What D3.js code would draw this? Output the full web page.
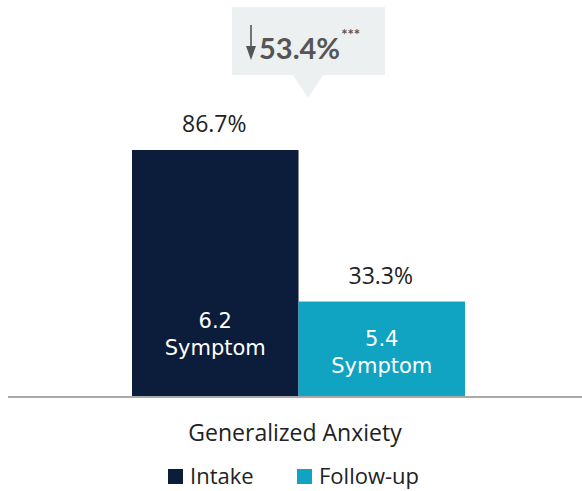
<!DOCTYPE html>
<html><head><meta charset="utf-8">
<script src="https://cdn.jsdelivr.net/npm/d3@7"></script>
<style>body{margin:0;background:#fff}svg{display:block}</style>
</head><body>
<svg id="c" width="582" height="491"></svg>
<script>
const categories = ["Generalized Anxiety"];
const series = ["Intake", "Follow-up"];
const percentValues = [86.7, 33.3];
const symptomValues = ["6.2", "5.4"];
const barLabelText = "Symptom";
const changeLabel = "53.4%";
const significance = "***";
const colors = ["#0b1d3a", "#11a3c2"];

const svg = d3.select("#c");
const baseY = 396;
const y = d3.scaleLinear().domain([0, 86.7]).range([baseY, 150]);
const x = d3.scaleBand().domain(series).range([132, 465]).padding(0);

// baseline
svg.append("line").attr("x1", 8).attr("x2", 582).attr("y1", baseY + 1).attr("y2", baseY + 1)
  .attr("stroke", "#a9a9a9").attr("stroke-width", 2);

// bars
series.forEach((s, i) => {
  svg.append("rect").attr("x", x(s)).attr("width", x.bandwidth())
    .attr("y", y(percentValues[i])).attr("height", baseY - y(percentValues[i]))
    .attr("fill", colors[i]);
  svg.append("text").attr("x", x(s) + x.bandwidth() / 2 - 1).attr("y", y(percentValues[i]) - 18)
    .attr("text-anchor", "middle").attr("font-family", "Open Sans").attr("font-size", 23)
    .attr("fill", "#222").text(percentValues[i].toFixed(1) + "%");
  const cx = x(s) + x.bandwidth() / 2;
  const ty = i === 0 ? 328 : 346;
  svg.append("text").attr("x", cx).attr("y", ty).attr("text-anchor", "middle")
    .attr("font-family", "DejaVu Sans").attr("font-size", 21).attr("fill", "#fff").text(symptomValues[i]);
  svg.append("text").attr("x", cx).attr("y", ty + 27).attr("text-anchor", "middle")
    .attr("font-family", "DejaVu Sans").attr("font-size", 21).attr("fill", "#fff").text(barLabelText);
});

// category label
svg.append("text").attr("x", 295).attr("y", 441).attr("text-anchor", "middle")
  .attr("font-family", "Open Sans").attr("font-size", 23).attr("fill", "#222").text(categories[0]);

// callout
const cg = svg.append("g");
cg.append("rect").attr("x", 232).attr("y", 7).attr("width", 153).attr("height", 68).attr("fill", "#edf0f1");
cg.append("path").attr("d", "M292,74 L324,74 L308,98 Z").attr("fill", "#edf0f1");
// arrow
cg.append("line").attr("x1", 251).attr("x2", 251).attr("y1", 25).attr("y2", 54)
  .attr("stroke", "#555").attr("stroke-width", 1.6);
cg.append("path").attr("d", "M246,46 L251,60 L256,46 Z").attr("fill", "#555");
const t = cg.append("text").attr("x", 259).attr("y", 59).attr("font-family", "Lato")
  .attr("font-weight", "bold").attr("font-size", 29).attr("fill", "#555");
t.append("tspan").text(changeLabel);
t.append("tspan").attr("font-size", 15).attr("dy", -19).attr("dx", 1).text(significance);

// legend
const lg = svg.append("g");
const legendX = [168, 297];
series.forEach((s, i) => {
  lg.append("rect").attr("x", legendX[i]).attr("y", 469).attr("width", 15).attr("height", 15).attr("fill", colors[i]);
  lg.append("text").attr("x", legendX[i] + 22).attr("y", 484).attr("font-family", "Open Sans")
    .attr("font-size", 22).attr("fill", "#222").text(s);
});
</script>
</body></html>
